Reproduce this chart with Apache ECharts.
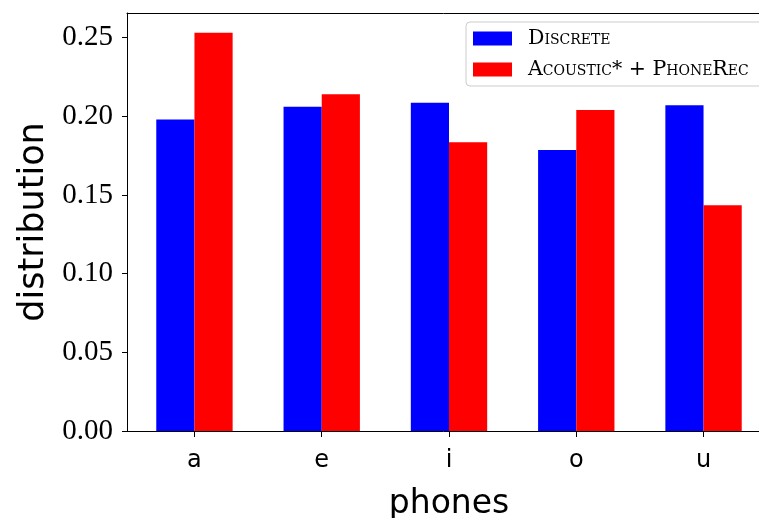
<!DOCTYPE html>
<html>
<head>
<meta charset="utf-8">
<script src="https://cdn.jsdelivr.net/npm/echarts@6/dist/echarts.min.js"></script>
<style>html,body{margin:0;padding:0;background:#fff;}#c{width:759px;height:518px;}</style>
</head>
<body>
<div id="c"></div>
<script>
const phones = ['a', 'e', 'i', 'o', 'u'];
const discrete = [0.198, 0.206, 0.2085, 0.1785, 0.207];
const acousticPhoneRec = [0.253, 0.214, 0.1835, 0.204, 0.1435];
const yTicks = [0, 0.05, 0.10, 0.15, 0.20, 0.25];
const seriesNames = ['Discrete', 'Acoustic* + PhoneRec'];

const chart = echarts.init(document.getElementById('c'), null, {renderer: 'canvas'});
const idx = phones.map((_, i) => i);
chart.setOption({
  animation: false,
  backgroundColor: '#fff',
  grid: {left: 127, top: 13, width: 644, height: 418, outerBoundsMode: 'none', containLabel: false, show: false},
  legend: {
    orient: 'vertical', left: 466, top: 22,
    itemWidth: 39, itemHeight: 14, itemGap: 10,
    icon: 'rect',
    padding: [6, 16, 6, 7],
    backgroundColor: '#fff', borderColor: '#ccc', borderWidth: 1, borderRadius: 4,
    textStyle: {fontFamily: 'DejaVu Serif', fontSize: 20.5, color: '#000', fontStyle: 'small-caps', padding: [0, 0, 0, 11]},
    data: seriesNames
  },
  xAxis: [{
    type: 'value', min: -0.53, max: 4.53, position: 'bottom',
    splitLine: {show: false},
    axisLine: {show: true, onZero: false, lineStyle: {color: '#000', width: 1}},
    axisTick: {show: true, length: 6, lineStyle: {color: '#000'}, customValues: idx},
    axisLabel: {customValues: idx, formatter: v => phones[Math.round(v)], fontFamily: 'DejaVu Sans', fontSize: 24, color: '#000', margin: 18},
    name: 'phones', nameLocation: 'middle', nameGap: 57,
    nameTextStyle: {fontFamily: 'DejaVu Sans', fontSize: 33, color: '#000'}
  }, {
    type: 'value', min: -0.53, max: 4.53, position: 'top',
    splitLine: {show: false},
    axisLine: {show: true, onZero: false, lineStyle: {color: '#000', width: 1}},
    axisTick: {show: false}, axisLabel: {show: false}
  }],
  yAxis: {
    type: 'value', min: 0, max: 0.2656,
    splitLine: {show: false},
    axisLine: {show: true, onZero: false, lineStyle: {color: '#000', width: 1}},
    axisTick: {show: true, length: 5, lineStyle: {color: '#000'}, customValues: yTicks},
    axisLabel: {customValues: yTicks, formatter: v => v.toFixed(2), fontFamily: 'Liberation Serif', fontSize: 29, color: '#000', margin: 14},
    name: 'distribution', nameLocation: 'middle', nameGap: 76, nameRotate: 90,
    nameTextStyle: {fontFamily: 'DejaVu Sans', fontSize: 35, color: '#000'}
  },
  series: [
    {name: seriesNames[0], type: 'bar', xAxisIndex: 0, barWidth: '30%', barGap: '0%', itemStyle: {color: '#0000ff'},
     data: discrete.map((v, i) => [i, v])},
    {name: seriesNames[1], type: 'bar', xAxisIndex: 0, barWidth: '30%', barGap: '0%', itemStyle: {color: '#ff0000'},
     data: acousticPhoneRec.map((v, i) => [i, v])}
  ]
});
</script>
</body>
</html>
